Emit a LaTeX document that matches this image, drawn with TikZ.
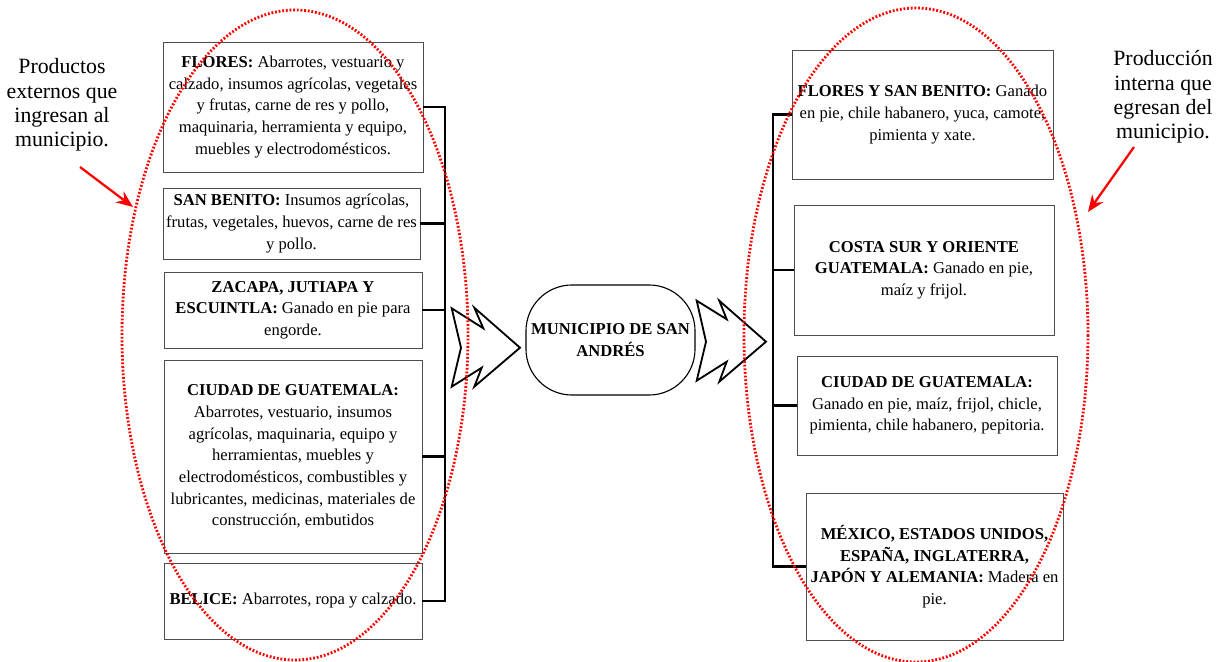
\documentclass[tikz,border=0pt]{standalone}
\usepackage{fontspec}
\setmainfont{Liberation Serif}
\usetikzlibrary{positioning,arrows.meta}
\tikzset{every node/.style={font=\fontsize{11.8}{15.4}\selectfont, align=center, inner sep=0pt},
  box/.style={draw=black!70, line width=0.6pt, rectangle},
  bus/.style={line width=1.7pt},
  chevron/.style={line width=1.3pt, line join=miter},
  ring/.style={red, line width=2pt, dash pattern=on 1.3pt off 1.3pt},
  pointer/.style={red, line width=1.6pt, -{Stealth[length=0.42cm,width=0.34cm]}},
  note/.style={font=\fontsize{15.5}{17.2}\selectfont}}

\begin{document}
\begin{tikzpicture}[x=0.025cm,y=-0.025cm]
		\useasboundingbox (0,0) rectangle (1217,662);
		% origen de los productos
		\node[box,minimum width=6.5cm,minimum height=3.25cm] (flores) at (293,107) {\textbf{FLORES:} Abarrotes, vestuario y\\ calzado, insumos agrícolas, vegetales\\ y frutas, carne de res y pollo,\\ maquinaria, herramienta y equipo,\\ muebles y electrodomésticos.};
		\node[box,minimum width=6.425cm,minimum height=1.775cm] (sanbenito) at (291.5,223.5) {\textbf{SAN BENITO:} Insumos agrícolas,\\ frutas, vegetales, huevos, carne de res\\ y pollo.};
		\node[box,minimum width=6.45cm,minimum height=1.9cm] (zacapa) at (293,310) {\textbf{ZACAPA, JUTIAPA Y}\\ \textbf{ESCUINTLA:} Ganado en pie para\\ engorde.};
		\node[box,minimum width=6.45cm,minimum height=4.825cm] (ciudad) at (293,456.5) {\textbf{CIUDAD DE GUATEMALA:}\\ Abarrotes, vestuario, insumos\\ agrícolas, maquinaria, equipo y\\ herramientas, muebles y\\ electrodomésticos, combustibles y\\ lubricantes, medicinas, materiales de\\ construcción, embutidos};
		\node[box,minimum width=6.45cm,minimum height=1.9cm] (belice) at (293,601) {\textbf{BELICE:} Abarrotes, ropa y calzado.};
		% destino de la produccion
		\node[box,minimum width=6.525cm,minimum height=3.225cm] (rflores) at (922.5,114.5) {\textbf{FLORES Y SAN BENITO:} Ganado\\ en pie, chile habanero, yuca, camote,\\ pimienta y xate.};
		\node[box,minimum width=6.5cm,minimum height=3.25cm] (costa) at (924,270) {\textbf{COSTA SUR Y ORIENTE}\\ \textbf{GUATEMALA:} Ganado en pie,\\ maíz y frijol.};
		\node[box,minimum width=6.5cm,minimum height=2.475cm] (rciudad) at (927,405.5) {\textbf{CIUDAD DE GUATEMALA:}\\ Ganado en pie, maíz, frijol, chicle,\\ pimienta, chile habanero, pepitoria.};
		\node[box,minimum width=6.425cm,minimum height=3.675cm] (mexico) at (934.5,566.5) {\textbf{MÉXICO, ESTADOS UNIDOS,}\\ \textbf{ESPAÑA, INGLATERRA,}\\ \textbf{JAPÓN Y ALEMANIA:} Madera en\\ pie.};
		% municipio
		\node[draw,line width=0.8pt,rounded corners=1.15cm,minimum width=4.225cm,minimum height=2.75cm] (muni) at (610.5,340) {\textbf{MUNICIPIO DE SAN}\\ \textbf{ANDRÉS}};
		\coordinate (busL) at (445,0);
		\coordinate (busR) at (773,0);
		\draw[bus] (flores.east) -- (flores.east -| busL) -- (belice.east -| busL) -- (belice.east);
		\draw[bus] (sanbenito.east) -- (sanbenito.east -| busL);
		\draw[bus] (zacapa.east) -- (zacapa.east -| busL);
		\draw[bus] (ciudad.east) -- (ciudad.east -| busL);
		\draw[bus] (rflores.west) -- (rflores.west -| busR) -- (mexico.west -| busR) -- (mexico.west);
		\draw[bus] (costa.west) -- (costa.west -| busR);
		\draw[bus] (rciudad.west) -- (rciudad.west -| busR);
		% flechas
		\draw[chevron] (451.7,308.3) -- (483.3,328.3) -- (474.3,307.7) -- (520,347.7) -- (474.3,386.7) -- (481.7,367.7) -- (451.7,386.7) -- (461,347.7) -- cycle;
		\draw[chevron] (696.7,300.7) -- (726.7,319.3) -- (719.3,300.7) -- (766,341.7) -- (719.3,381.7) -- (726.7,361.7) -- (696.7,380.7) -- (706,341.7) -- cycle;
		% grupos
		\draw[ring] (295,335) ellipse [x radius=173, y radius=325];
		\draw[ring] (916,335) ellipse [x radius=172, y radius=327];
		\node[note] (ext) at (62,105) {Productos\\ externos que\\ ingresan al\\ municipio.};
		\node[note] (int) at (1163,97) {Producción\\ interna que\\ egresan del\\ municipio.};
		\coordinate (extA) at (80,167);
		\coordinate (extB) at (133,207);
		\coordinate (intA) at (1134,147);
		\coordinate (intB) at (1088,212);
		\draw[pointer] (extA) -- (extB);
		\draw[pointer] (intA) -- (intB);
	\end{tikzpicture}
\end{document}
